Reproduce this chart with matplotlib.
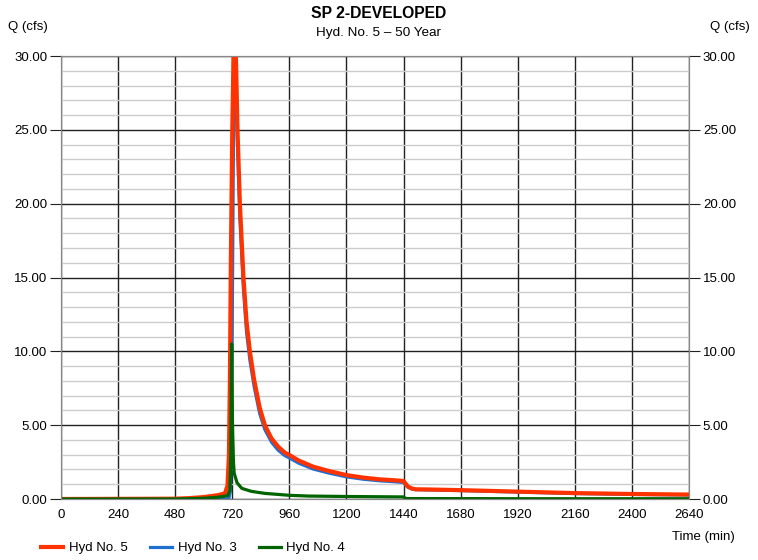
import matplotlib.pyplot as plt
from matplotlib.ticker import MultipleLocator

plt.rcParams['font.family'] = ['Liberation Sans', 'DejaVu Sans']

# Hyd No. 5 (combined)
t5 = [0, 480, 540, 600, 660, 689, 700, 706, 710, 714, 720, 726, 731, 736, 742,
      752, 767, 780, 794, 812, 835, 857, 885, 913, 940, 960, 1000, 1060, 1130,
      1200, 1270, 1341, 1400, 1440, 1448, 1458, 1474, 1490, 1560, 1680, 1800,
      1920, 2040, 2160, 2280, 2400, 2520, 2640]
q5 = [0.0, 0.02, 0.06, 0.13, 0.26, 0.38, 0.9, 3.0, 8.0, 16.0, 25.0, 30.5, 32.0,
      29.5, 25.0, 20.0, 15.0, 12.0, 10.0, 8.06, 6.2, 5.0, 4.1, 3.54, 3.15, 2.98,
      2.6, 2.19, 1.88, 1.62, 1.45, 1.33, 1.27, 1.22, 1.05, 0.85, 0.72, 0.66,
      0.64, 0.6, 0.55, 0.5, 0.45, 0.4, 0.37, 0.34, 0.32, 0.3]

# Hyd No. 3
t3 = [0, 705, 712, 716, 720, 724, 728, 731, 736, 742, 752, 767, 780, 794, 812,
      835, 857, 885, 913, 940, 960, 1000, 1060, 1130, 1200, 1270, 1341, 1400,
      1440, 1448, 1458, 1474, 1490, 1560, 1680, 1800, 1920, 2040, 2160, 2280,
      2400, 2520, 2640]
q3 = [0.0, 0.0, 0.5, 3.0, 12.0, 22.0, 29.0, 30.5, 28.0, 24.0, 19.0, 14.2, 11.3,
      9.4, 7.6, 5.8, 4.7, 3.85, 3.3, 2.95, 2.78, 2.42, 2.03, 1.74, 1.5, 1.34,
      1.23, 1.17, 1.12, 0.97, 0.8, 0.68, 0.63, 0.61, 0.57, 0.52, 0.47, 0.42,
      0.37, 0.34, 0.31, 0.29, 0.27]

# Hyd No. 4
t4 = [0, 480, 540, 600, 660, 700, 710, 714, 717.5, 721, 725, 728, 740, 760, 800,
      857, 960, 1040, 1200, 1440, 1450, 2000, 2640]
q4 = [0.0, 0.0, 0.02, 0.05, 0.12, 0.22, 0.6, 3.0, 10.5, 5.0, 2.5, 1.75, 1.1,
      0.72, 0.52, 0.38, 0.25, 0.2, 0.17, 0.14, 0.03, 0.02, 0.02]

xticks = list(range(0, 2641, 240))

fig = plt.figure(figsize=(7.58, 5.60), dpi=100)
ax = fig.add_axes([61 / 758, 61 / 560, 628 / 758, 443 / 560])

ax.plot(t3, q3, color='#1f6fd0', lw=2.3, zorder=3, label='Hyd No. 3')
ax.plot(t5, q5, color='#ff3300', lw=3.0, zorder=4, label='Hyd No. 5')
ax.plot(t4, q4, color='#006400', lw=2.3, zorder=5, label='Hyd No. 4')

ax.set_xlim(0, 2640)
ax.set_ylim(0, 30)
ax.set_xticks(xticks)
ax.yaxis.set_major_locator(MultipleLocator(5))
ax.yaxis.set_minor_locator(MultipleLocator(1))
ax.yaxis.set_major_formatter(lambda v, p: f'{v:.2f}')
ax.grid(which='major', color='#222222', lw=1.0)
ax.grid(which='minor', axis='y', color='#cccccc', lw=1.0)
ax.set_axisbelow(True)
for s in ax.spines.values():
    s.set_color('#888888')
ax.tick_params(axis='y', which='major', length=8, color='#222222', labelsize=9.5, pad=2)
ax.tick_params(axis='y', which='minor', length=0)
ax.tick_params(axis='x', length=0, labelsize=9.5, pad=7)

ax2 = ax.twinx()
ax2.set_ylim(0, 30)
ax2.yaxis.set_major_locator(MultipleLocator(5))
ax2.yaxis.set_major_formatter(lambda v, p: f'{v:.2f}')
ax2.tick_params(axis='y', length=8, color='#222222', labelsize=9.5, pad=2)
for s in ax2.spines.values():
    s.set_color('#888888')

fig.text(0.5, 1 - 13 / 560, 'SP 2-DEVELOPED', ha='center', va='center',
         fontsize=11.3, fontweight='bold')
fig.text(0.5, 1 - 33 / 560, 'Hyd. No. 5 \u2013 50 Year', ha='center', va='center',
         fontsize=9.7)
fig.text(8 / 758, 1 - 27 / 560, 'Q (cfs)', ha='left', va='center', fontsize=9.5)
fig.text(750 / 758, 1 - 27 / 560, 'Q (cfs)', ha='right', va='center', fontsize=9.5)
fig.text(735 / 758, 1 - 537 / 560, 'Time (min)', ha='right', va='center', fontsize=9.5)

handles, labels = ax.get_legend_handles_labels()
order = [1, 0, 2]
fig.legend([handles[i] for i in order], [labels[i] for i in order],
           loc='center left', bbox_to_anchor=(41 / 758, 1 - 548 / 560),
           ncol=3, frameon=False, fontsize=9.5, handlelength=1.67,
           columnspacing=1.67, handletextpad=0.45, borderpad=0, borderaxespad=0)

fig.savefig('out.png', dpi=100)
